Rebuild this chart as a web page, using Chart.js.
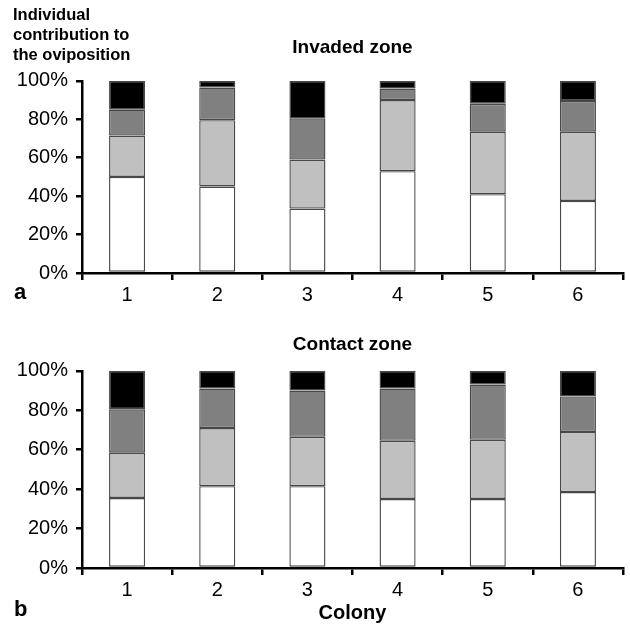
<!DOCTYPE html>
<html>
<head>
<meta charset="utf-8">
<script src="https://cdn.jsdelivr.net/npm/chart.js@4.4.1/dist/chart.umd.min.js"></script>
<style>
  body { margin: 0; background: #fff; }
  #wrap { position: relative; width: 630px; height: 625px; font-family: "Liberation Sans", Arial, sans-serif; }
  .lbl { position: absolute; font-weight: bold; color: #000; }
  #ylab { left: 13px; top: 4px; font-size: 16.5px; line-height: 20px; }
  #pa { left: 14px; top: 279px; font-size: 22px; }
  #pb { left: 14px; top: 596px; font-size: 22px; }
  #c1 { position: absolute; left: 0; top: 0; }
  #c2 { position: absolute; left: 0; top: 300px; }
</style>
</head>
<body>
<div id="wrap">
  <canvas id="c1" width="630" height="310"></canvas>
  <canvas id="c2" width="630" height="325"></canvas>
  <div class="lbl" id="ylab">Individual<br>contribution to<br>the oviposition</div>
  <div class="lbl" id="pa">a</div>
  <div class="lbl" id="pb">b</div>
</div>
<script>
const colonies = ['1', '2', '3', '4', '5', '6']

// Invaded zone (panel a), bottom segment first
const invWhite = [50, 45, 33.5, 53, 41, 37.5]
const invLight = [21.5, 34.5, 25.5, 37, 32.5, 36]
const invDark = [13.5, 17, 21.5, 6, 14.5, 16]
const invBlack = [15, 3.5, 19.5, 4, 12, 10.5]

// Contact zone (panel b)
const conWhite = [35.5, 41.5, 41.5, 35, 35, 38.5]
const conLight = [23, 29.5, 25, 29.5, 30, 30.5]
const conDark = [22, 20, 23.5, 26.5, 28, 18]
const conBlack = [19.5, 9, 10, 9, 7, 13]

const fills = ['#ffffff', '#c0c0c0', '#808080', '#000000']
const tickFont = { family: 'Liberation Sans, Arial, sans-serif', size: 20 }
const boldFont = { family: 'Liberation Sans, Arial, sans-serif', size: 19, weight: 'bold' }

function makeSets(series) {
  return series.map((vals, i) => ({
    data: vals,
    backgroundColor: fills[i],
    borderColor: '#484848',
    borderWidth: 1.4,
    borderSkipped: false,
    barPercentage: 0.4,
    categoryPercentage: 1
  }))
}

function makeChart(id, title, series, opt) {
  return new Chart(document.getElementById(id).getContext('2d'), {
    type: 'bar',
    data: { labels: colonies, datasets: makeSets(series) },
    options: {
      responsive: false,
      animation: false,
      layout: { padding: { left: 0, right: 7, top: 0, bottom: 0 } },
      plugins: {
        legend: { display: false },
        tooltip: { enabled: false },
        title: {
          display: true,
          text: title,
          color: '#000',
          font: boldFont,
          fullSize: false,
          padding: opt.titlePad
        }
      },
      scales: {
        x: {
          stacked: true,
          border: { display: true, color: '#000', width: 2.5 },
          grid: { offset: true, drawOnChartArea: false, drawTicks: true, tickLength: 7, color: '#000', lineWidth: 2.5 },
          ticks: { color: '#000', font: tickFont, padding: 3 },
          title: {
            display: !!opt.xTitle,
            text: opt.xTitle || '',
            color: '#000',
            font: { family: 'Liberation Sans, Arial, sans-serif', size: 20, weight: 'bold' },
            padding: { top: 0, bottom: 0 }
          },
          afterFit: s => { s.height = opt.xHeight }
        },
        y: {
          stacked: true,
          min: 0,
          max: 100,
          border: { display: true, color: '#000', width: 2.5 },
          grid: { drawOnChartArea: false, drawTicks: true, tickLength: 6, color: '#000', lineWidth: 2.5 },
          ticks: { stepSize: 20, color: '#000', font: tickFont, padding: 8, callback: v => v + '%' },
          afterFit: s => { s.width = 82 }
        }
      }
    }
  })
}

makeChart('c1', 'Invaded zone', [invWhite, invLight, invDark, invBlack],
  { titlePad: { top: 36, bottom: 22 }, xHeight: 37 })
makeChart('c2', 'Contact zone', [conWhite, conLight, conDark, conBlack],
  { titlePad: { top: 33, bottom: 15 }, xHeight: 57, xTitle: 'Colony' })
</script>
</body>
</html>
